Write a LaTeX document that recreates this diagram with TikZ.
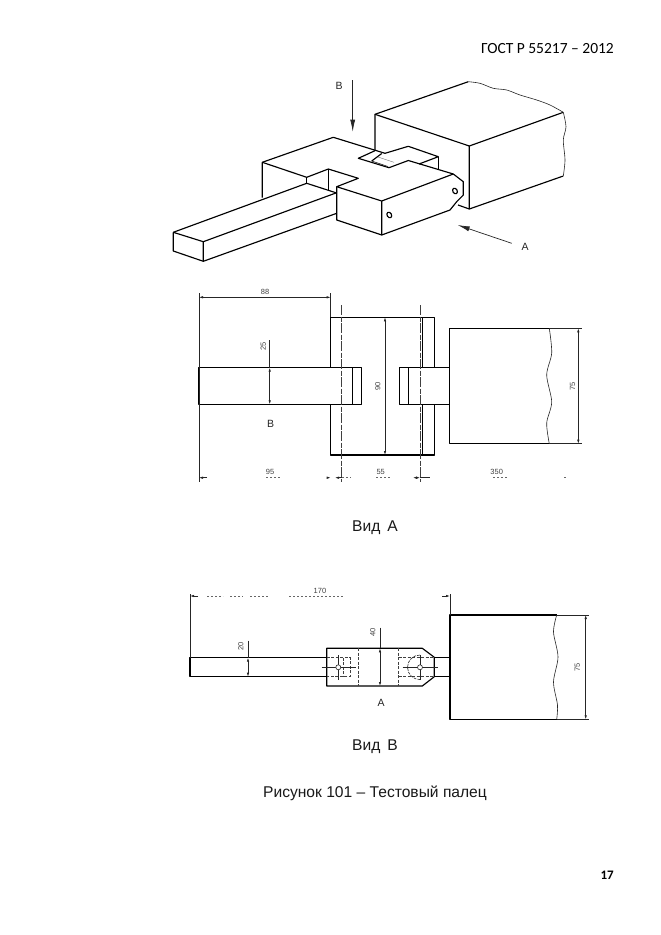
\documentclass[tikz,border=0pt]{standalone}
\usepackage{fontspec}
\setmainfont{Liberation Sans}
\newfontfamily\hdr{Carlito}
\usetikzlibrary{arrows.meta}
\tikzset{
  mainl/.style={line width=1.15pt,line join=round,black},
  thinl/.style={line width=0.6pt,black!85},
  hair/.style={line width=0.4pt,black!55},
  dashl/.style={line width=0.8pt,dash pattern=on 10pt off 1.5pt on 5pt off 1.5pt,black!75},
  sdash/.style={line width=0.7pt,dash pattern=on 3pt off 1.5pt,black!75},
  dimn/.style={line width=0.6pt,black!85,{Latex[length=4pt,width=2.4pt]}-{Latex[length=4pt,width=2.4pt]}},
  dimtxt/.style={font=\fontsize{7.5}{7.5}\selectfont,inner sep=0pt,black!75},
  lab/.style={font=\fontsize{10.5}{10.5}\selectfont,inner sep=0pt,black!85},
  captxt/.style={font=\fontsize{15.6}{15.6}\selectfont,inner sep=0pt,black!90},
  frag/.style={line width=0.5pt,black!60,dash pattern=on 2pt off 2pt},
}
\begin{document}
\begin{tikzpicture}[x=1pt,y=-1pt]
\useasboundingbox[fill=white] (0,0) rectangle (661,935);
% header and page number
\node[anchor=east,inner sep=0pt,font=\hdr\fontsize{15.5}{15.5}\selectfont] (head) at (614,49) {ГОСТ Р 55217 – 2012};
\node[anchor=east,inner sep=0pt,font=\hdr\bfseries\fontsize{13}{13}\selectfont] (pg) at (614,875) {17};
% ---------- perspective view
\draw[mainl] (375,150.7) -- (375,114.3) -- (468.3,81.7);
\draw[mainl] (375,114.3) -- (469.3,146) -- (563.3,112.3);
\draw[mainl] (469.3,146) -- (469.3,209) -- (563.3,176);
\draw[mainl] (469.3,209) -- (458,205);
\draw[thinl] plot[smooth] coordinates {(468.3,81.7) (480,83.3) (493.3,88.3) (506.7,90) (520,95) (536.7,100) (550,105) (563.3,112.3)};
\draw[thinl] plot[smooth] coordinates {(563.3,112.3) (566,126.7) (563.3,140) (565,160) (563.3,176)};
% fork body
\draw[mainl] (262.3,197.7) -- (262.3,162.3) -- (333.3,137.3) -- (385,153.3) -- (408.3,146.3) -- (438.3,156.7) -- (419,164);
\draw[mainl] (438.3,156.7) -- (438.3,170);
\draw[mainl] (262.3,162.3) -- (306.7,177.3) -- (328.3,169) -- (358.3,178.3) -- (336.7,186.7) -- (381.7,201) -- (453.3,174) -- (408.3,160.5) -- (389,167.7) -- (358.3,158.3) -- (375,150.7);
\draw[mainl] (306.7,177.3) -- (306.7,183.3);
\draw[mainl] (328.3,169) -- (328.3,190);
\draw[mainl] (371.7,161) -- (381.7,153.5);
\draw[thinl] (371.7,161) -- (388,166.5);
\draw[hair] (378,157) -- (394,162.3);
% front face
\draw[mainl] (336.7,186.7) -- (336.7,220) -- (381.7,235) -- (381.7,201);
\draw[mainl] (381.7,235) -- (450,210) -- (456.7,201.7) -- (463.3,195) -- (463.3,181.7) -- (453.3,174);
\draw[mainl,rotate around={30:(389.3,215)}] (389.3,215) ellipse (2.2pt and 3pt);
\draw[mainl,rotate around={30:(455,191)}] (455,191) ellipse (2.2pt and 3pt);
% long bar
\draw[mainl] (173.3,232.3) -- (306.7,183.3) -- (336.7,193);
\draw[mainl] (173.3,232.3) -- (203.3,241.7) -- (336.7,192.7);
\draw[mainl] (173.3,232.3) -- (173.3,251) -- (203.3,261.3) -- (203.3,241.7);
\draw[mainl] (203.3,261.3) -- (336.7,213.3);
% arrows
\coordinate (bA) at (352.7,80); \coordinate (bB) at (352.7,131.7);
\draw[thinl,line width=0.7pt,-{Latex[length=12pt,width=5pt]}] (bA) -- (bB);
\coordinate (aA) at (511.7,243.3); \coordinate (aB) at (457.7,225);
\draw[thinl,line width=0.7pt,-{Latex[length=12pt,width=5pt]}] (aA) -- (aB);
\node[lab] (lblB) at (339,86) {В};
\node[lab] (lblA) at (525,246.7) {А};
% ---------- view A (side view)
\draw[mainl] (330.7,367.7) -- (330.7,317.3) -- (434.3,317.3) -- (434.3,367.7);
\draw[mainl] (330.7,404.3) -- (330.7,455) -- (434.3,455) -- (434.3,404.3);
\draw[mainl] (422.7,317.3) -- (422.7,367.7) (422.7,404.3) -- (422.7,455);
\draw[mainl] (199,367.7) rectangle (361.7,404.3);
\draw[mainl] (352.3,367.7) -- (352.3,404.3);
\draw[mainl] (449.3,367.7) -- (399.3,367.7) -- (399.3,404.3) -- (449.3,404.3);
\draw[mainl] (408.3,367.7) -- (408.3,404.3);
\draw[mainl] (549.3,328.3) -- (449.3,328.3) -- (449.3,443.7) -- (549.3,443.7);
\draw[thinl] plot[smooth] coordinates {(549.3,328.3) (551.7,353) (546.7,375) (551.7,402) (546.7,423) (549.3,443.7)};
\draw[dashl] (341.7,305) -- (341.7,481.7);
\draw[dashl] (420,305) -- (420,481.7);
% dims
\draw[thinl] (199,293) -- (199,481.7);
\draw[thinl] (330.7,293) -- (330.7,317.3);
\draw[dimn] (199,297.3) -- (330.7,297.3);
\node[dimtxt] (d88) at (265,291.5) {88};
\draw[thinl] (269.7,340) -- (269.7,367.7);
\draw[dimn] (269.7,367.7) -- (269.7,404.3);
\node[dimtxt,rotate=90] (d25) at (263.3,346.7) {25};
\draw[dimn] (385,317.3) -- (385,455);
\node[dimtxt,rotate=90] (d90) at (377.7,386.7) {90};
\draw[thinl] (549.3,328.3) -- (581.7,328.3) (549.3,443.7) -- (581.7,443.7);
\draw[dimn] (578.3,328.3) -- (578.3,443.7);
\node[dimtxt,rotate=90] (d75a) at (572.7,386) {75};
\node[lab] (lblB2) at (270.7,424) {В};
\node[dimtxt] (d95) at (270,471.7) {95};
\node[dimtxt] (d55) at (380.7,471.7) {55};
\node[dimtxt] (d350) at (496.7,471.7) {350};
\draw[thinl,-{Latex[length=4pt,width=2.4pt]}] (207,477.7) -- (199,477.7);
\draw[frag] (266,477.7) -- (280,477.7);
\draw[thinl,-{Latex[length=4pt,width=2.4pt]}] (328,477.7) -- (330.7,477.7);
\draw[thinl,{Latex[length=4pt,width=2.4pt]}-] (335,477.7) -- (342,477.7);
\draw[frag] (342,477.7) -- (351,477.7) (376,477.7) -- (390,477.7);
\draw[thinl,{Latex[length=4pt,width=2.4pt]}-{Latex[length=4pt,width=2.4pt]}] (413,477.7) -- (420,477.7);
\draw[thinl] (420,477.7) -- (430,477.7);
\draw[frag] (493,477.7) -- (507,477.7);
\draw[frag] (564,477.7) -- (566,477.7);
\node[captxt] (vidA) at (375,528) {Вид\, А};
% ---------- view B (plan)
\draw[mainl] (326.7,657.7) -- (190,657.7) -- (190,676.7) -- (326.7,676.7);
\draw[mainl] (326.7,648.3) -- (422.3,648.3) -- (434.3,657.3) -- (434.3,676.7) -- (422.3,686) -- (326.7,686) -- cycle;
\draw[mainl] (434.3,657.7) -- (450,657.7) (434.3,676.7) -- (450,676.7);
\draw[mainl] (556.7,615) -- (450,615) -- (450,719.3) -- (556.7,719.3);
\draw[thinl] plot[smooth] coordinates {(556.7,615) (553.5,632) (558,657) (553.5,682) (557.5,705) (556.7,719.3)};
\draw[sdash] (358.7,648.3) -- (358.7,686) (398.7,648.3) -- (398.7,686);
% left hole
\draw[sdash] (326.7,657.7) -- (350,657.7) -- (350,676.7) -- (326.7,676.7);
\draw[sdash] (343.5,657.7) -- (343.5,676.7);
\draw[thinl] (321.7,667.3) -- (355.7,667.3) (338.3,655) -- (338.3,680);
\draw[thinl,fill=white] (338.3,667.3) circle (2.5pt);
% right hole
\draw[sdash] (398.7,657.7) -- (434.3,657.7) (398.7,676.7) -- (434.3,676.7);
\draw[thinl,dash pattern=on 3pt off 1pt] (420,655) arc[start angle=90,end angle=270,x radius=12.5pt,y radius=12.3pt];
\draw[thinl] (402.7,667.3) -- (438.3,667.3) (420,655) -- (420,680);
\draw[thinl,fill=white] (420,667.3) circle (2.5pt);
% dims
\draw[thinl] (190,594) -- (190,657.7);
\draw[thinl] (450,594) -- (450,615);
\draw[thinl,-{Latex[length=4pt,width=2.4pt]}] (198,596) -- (190,596);
\draw[thinl,-{Latex[length=4pt,width=2.4pt]}] (442,596) -- (450,596);
\draw[frag] (207,596) -- (223,596) (230,596) -- (243,596) (250,596) -- (268,596) (289,596) -- (343,596);
\node[dimtxt] (d170) at (320,591) {170};
\draw[thinl] (248,640.7) -- (248,657.7);
\draw[dimn] (248,657.7) -- (248,676.7);
\node[dimtxt,rotate=90] (d20) at (240.7,646.7) {20};
\draw[thinl] (380,627.7) -- (380,648.3);
\draw[dimn] (380,648.3) -- (380,686);
\node[dimtxt,rotate=90] (d40) at (372.7,632.7) {40};
\draw[thinl] (556.7,615) -- (589.3,615) (556.7,719.3) -- (589.3,719.3);
\draw[dimn] (585.7,615) -- (585.7,719.3);
\node[dimtxt,rotate=90] (d75b) at (577.3,667.7) {75};
\node[lab] (lblA2) at (381,702.7) {А};
\node[captxt] (vidB) at (375,747) {Вид\, В};
\node[captxt] (capt) at (375,793) {Рисунок 101 – Тестовый палец};
\end{tikzpicture}
\end{document}
